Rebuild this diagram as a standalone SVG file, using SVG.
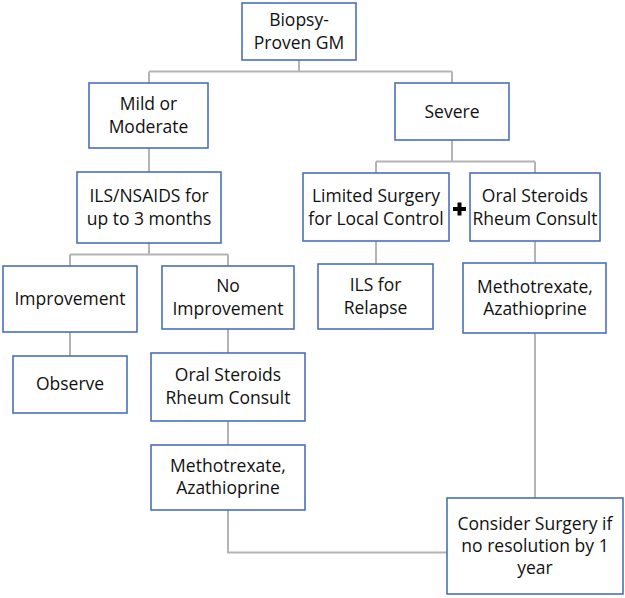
<svg xmlns="http://www.w3.org/2000/svg" width="625" height="598" viewBox="0 0 625 598">
<style>
.box{fill:#ffffff;stroke:#4a6fbe;stroke-width:1.6}
.ln{fill:none;stroke:#b4b4b4;stroke-width:2}
text{font-family:"Open Sans","Noto Sans","Liberation Sans",sans-serif;font-size:17.5px;fill:#111111;text-anchor:middle}
</style>
<rect width="625" height="598" fill="#ffffff"/>
<g id="connectors">
<path class="ln" d="M299 60V71.5M149 71.5H452M149 71.5V83M452 71.5V83"/>
<path class="ln" d="M149 148V172"/>
<path class="ln" d="M149 243V254.5M70 254.5H228M70 254.5V266M228 254.5V266"/>
<path class="ln" d="M70 332V356"/>
<path class="ln" d="M228 329V353"/>
<path class="ln" d="M228 421V445"/>
<path class="ln" d="M228 510V552.5H447"/>
<path class="ln" d="M452 140V161.5M376 161.5H535M376 161.5V173M535 161.5V173"/>
<path class="ln" d="M376 241V264"/>
<path class="ln" d="M535 241V263"/>
<path class="ln" d="M535 333V498"/>
</g>
<g id="biopsy"><rect class="box" x="242" y="3" width="114" height="57"/><text x="299" y="26">Biopsy-</text><text x="299" y="48.5">Proven GM</text></g>
<g id="mild"><rect class="box" x="89" y="83" width="119" height="65"/><text x="148.5" y="110">Mild or</text><text x="148.5" y="132.5">Moderate</text></g>
<g id="severe"><rect class="box" x="395" y="83" width="114" height="57"/><text x="452" y="117.5">Severe</text></g>
<g id="ils-nsaids"><rect class="box" x="77" y="172" width="144" height="71"/><text x="149" y="202">ILS/NSAIDS for</text><text x="149" y="224.5">up to 3 months</text></g>
<g id="limited-surgery"><rect class="box" x="303" y="173" width="146" height="68"/><text x="376" y="202">Limited Surgery</text><text x="376" y="224.5">for Local Control</text></g>
<g id="plus"><rect x="453" y="207" width="13" height="4" fill="#000"/><rect x="457.5" y="202.5" width="4" height="13" fill="#000"/></g>
<g id="oral-steroids-right"><rect class="box" x="470" y="173" width="130" height="68"/><text x="535" y="202">Oral Steroids</text><text x="535" y="224.5">Rheum Consult</text></g>
<g id="improvement"><rect class="box" x="3" y="266" width="134" height="66"/><text x="70" y="305">Improvement</text></g>
<g id="no-improvement"><rect class="box" x="162" y="266" width="132" height="63"/><text x="228" y="291.5">No</text><text x="228" y="315">Improvement</text></g>
<g id="ils-relapse"><rect class="box" x="318" y="264" width="115" height="65"/><text x="375.5" y="291">ILS for</text><text x="375.5" y="313.5">Relapse</text></g>
<g id="methotrexate-right"><rect class="box" x="463" y="263" width="143" height="70"/><text x="535" y="292.5">Methotrexate,</text><text x="535" y="314.5">Azathioprine</text></g>
<g id="observe"><rect class="box" x="13" y="356" width="114" height="57"/><text x="70" y="389.5">Observe</text></g>
<g id="oral-steroids-left"><rect class="box" x="151" y="353" width="154" height="68"/><text x="228" y="380.5">Oral Steroids</text><text x="228" y="403.5">Rheum Consult</text></g>
<g id="methotrexate-left"><rect class="box" x="151" y="445" width="154" height="65"/><text x="228" y="471.5">Methotrexate,</text><text x="228" y="494">Azathioprine</text></g>
<g id="consider-surgery"><rect class="box" x="447" y="498" width="176" height="96"/><text x="535" y="529.5">Consider Surgery if</text><text x="535" y="551.5">no resolution by 1</text><text x="535" y="573.5">year</text></g>
</svg>
